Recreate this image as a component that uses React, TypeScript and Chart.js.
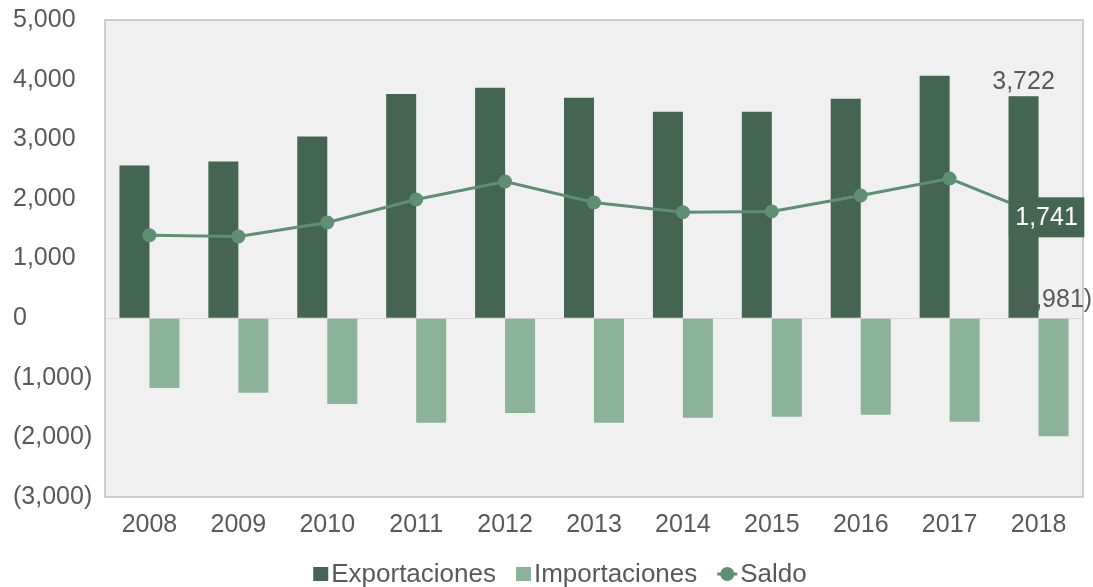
import React, { useEffect, useRef } from "react";
import { Chart, registerables } from "chart.js";

Chart.register(...registerables);

const years = ["2008", "2009", "2010", "2011", "2012", "2013", "2014", "2015", "2016", "2017", "2018"];
const exportaciones = [2560, 2625, 3045, 3760, 3865, 3695, 3460, 3460, 3680, 4065, 3722];
const importaciones = [-1170, -1250, -1440, -1755, -1590, -1755, -1670, -1655, -1620, -1740, -1981];
const saldo = [1390, 1370, 1605, 1990, 2290, 1940, 1775, 1790, 2055, 2340, 1741];

const DARK = "#436552";
const LIGHT = "#8AB39A";
const LINE = "#5E8F74";
const TEXT = "#595959";
const FONT = "'Liberation Sans', Arial, sans-serif";
const FS = 25;

const fmt = (v: number) => {
  const s = Math.abs(v).toLocaleString("en-US");
  return v < 0 ? `(${s})` : s;
};

const bgPlugin = {
  id: "bgPlugin",
  beforeDraw(chart: any) {
    const { ctx, chartArea } = chart;
    ctx.save();
    ctx.fillStyle = "#F0F0F0";
    ctx.fillRect(chartArea.left, chartArea.top, chartArea.right - chartArea.left, chartArea.bottom - chartArea.top);
    ctx.restore();
  },
  afterDatasetsDraw(chart: any) {
    const { ctx, chartArea, scales } = chart;
    ctx.save();
    ctx.strokeStyle = "#BFBFBF";
    ctx.lineWidth = 1.5;
    ctx.strokeRect(chartArea.left, chartArea.top, chartArea.right - chartArea.left, chartArea.bottom - chartArea.top);
    const last = years.length - 1;
    // export label
    const expEl = chart.getDatasetMeta(0).data[last];
    ctx.font = `${FS}px ${FONT}`;
    ctx.fillStyle = TEXT;
    ctx.textAlign = "center";
    ctx.textBaseline = "alphabetic";
    ctx.fillText(fmt(exportaciones[last]), expEl.x, expEl.y - 7);
    // import label
    const impEl = chart.getDatasetMeta(1).data[last];
    const zeroY = scales.y.getPixelForValue(0);
    ctx.textBaseline = "middle";
    ctx.fillText(fmt(importaciones[last]), impEl.x - 1, zeroY - 18);
    // saldo label
    const sEl = chart.getDatasetMeta(2).data[last];
    const txt = fmt(saldo[last]);
    const w = ctx.measureText(txt).width + 13;
    const h = 40;
    const cx = sEl.x + 8;
    const cy = sEl.y + 3;
    ctx.fillStyle = DARK;
    ctx.fillRect(cx - w / 2, cy - h / 2, w, h);
    ctx.fillStyle = "#FFFFFF";
    ctx.fillText(txt, cx, cy + 1);
    ctx.restore();
  },
  afterDraw(chart: any) {
    // legend
    const { ctx } = chart;
    ctx.save();
    ctx.font = `26px ${FONT}`;
    ctx.textBaseline = "middle";
    ctx.textAlign = "left";
    const items = chart.data.datasets.map((ds: any, i: number) => ({
      label: ds.label,
      color: i === 2 ? ds.borderColor : ds.backgroundColor,
      line: i === 2,
    }));
    const markW = (it: any) => (it.line ? 20 : 15);
    const gap = 3;
    const between = 20;
    let total = 0;
    items.forEach((it: any, i: number) => {
      total += markW(it) + gap + ctx.measureText(it.label).width + (i < items.length - 1 ? between : 0);
    });
    let x = 560 - total / 2;
    const y = 574;
    items.forEach((it: any) => {
      ctx.fillStyle = it.color;
      ctx.strokeStyle = it.color;
      if (it.line) {
        ctx.lineWidth = 3;
        ctx.beginPath();
        ctx.moveTo(x, y);
        ctx.lineTo(x + 20, y);
        ctx.stroke();
        ctx.beginPath();
        ctx.arc(x + 10, y, 7, 0, Math.PI * 2);
        ctx.fill();
      } else {
        ctx.fillRect(x, y - 7, 15, 14);
      }
      x += markW(it) + gap;
      ctx.fillStyle = TEXT;
      ctx.fillText(it.label, x, y + 1);
      x += ctx.measureText(it.label).width + between;
    });
    ctx.restore();
  },
};

export default function App() {
  const ref = useRef<HTMLCanvasElement>(null);
  useEffect(() => {
    document.body.style.margin = "0";
    const chart = new Chart(ref.current as HTMLCanvasElement, {
      type: "bar",
      data: {
        labels: years,
        datasets: [
          {
            type: "bar",
            label: "Exportaciones",
            data: exportaciones,
            backgroundColor: DARK,
            categoryPercentage: 0.675,
            barPercentage: 1,
            order: 2,
          },
          {
            type: "bar",
            label: "Importaciones",
            data: importaciones,
            backgroundColor: LIGHT,
            categoryPercentage: 0.675,
            barPercentage: 1,
            order: 2,
          },
          {
            type: "line",
            label: "Saldo",
            data: saldo,
            borderColor: LINE,
            backgroundColor: LINE,
            borderWidth: 3,
            pointRadius: 5.5,
            pointBackgroundColor: LINE,
            pointBorderColor: LINE,
            order: 1,
          } as any,
        ],
      },
      options: {
        animation: false,
        responsive: false,
        layout: { padding: { top: 20, right: 10, left: 13, bottom: 0 } },
        plugins: {
          tooltip: { enabled: false },
          legend: { display: false },
        },
        scales: {
          x: {
            grid: { display: false, drawTicks: false },
            border: { display: false },
            ticks: { font: { family: FONT, size: FS }, color: TEXT, padding: 13, maxRotation: 0 },
            afterFit: (axis: any) => {
              axis.height = 90;
            },
          },
          y: {
            min: -3000,
            max: 5000,
            ticks: {
              stepSize: 1000,
              font: { family: FONT, size: FS },
              color: TEXT,
              crossAlign: "far",
              padding: 10,
              callback: (v: any) => fmt(Number(v)),
            },
            afterFit: (axis: any) => {
              axis.width = 92;
              axis.paddingTop = 0;
              axis.paddingBottom = 0;
            },
            grid: {
              drawTicks: false,
              color: (c: any) => (c.tick && c.tick.value === 0 ? "#D9D9D9" : "rgba(0,0,0,0)"),
            },
            border: { display: false },
          },
        },
      },
      plugins: [bgPlugin],
    });
    return () => chart.destroy();
  }, []);
  return (
    <div style={{ position: "absolute", left: 0, top: 0, width: 1093, height: 587 }}>
      <canvas ref={ref} width={1093} height={587} />
    </div>
  );
}
